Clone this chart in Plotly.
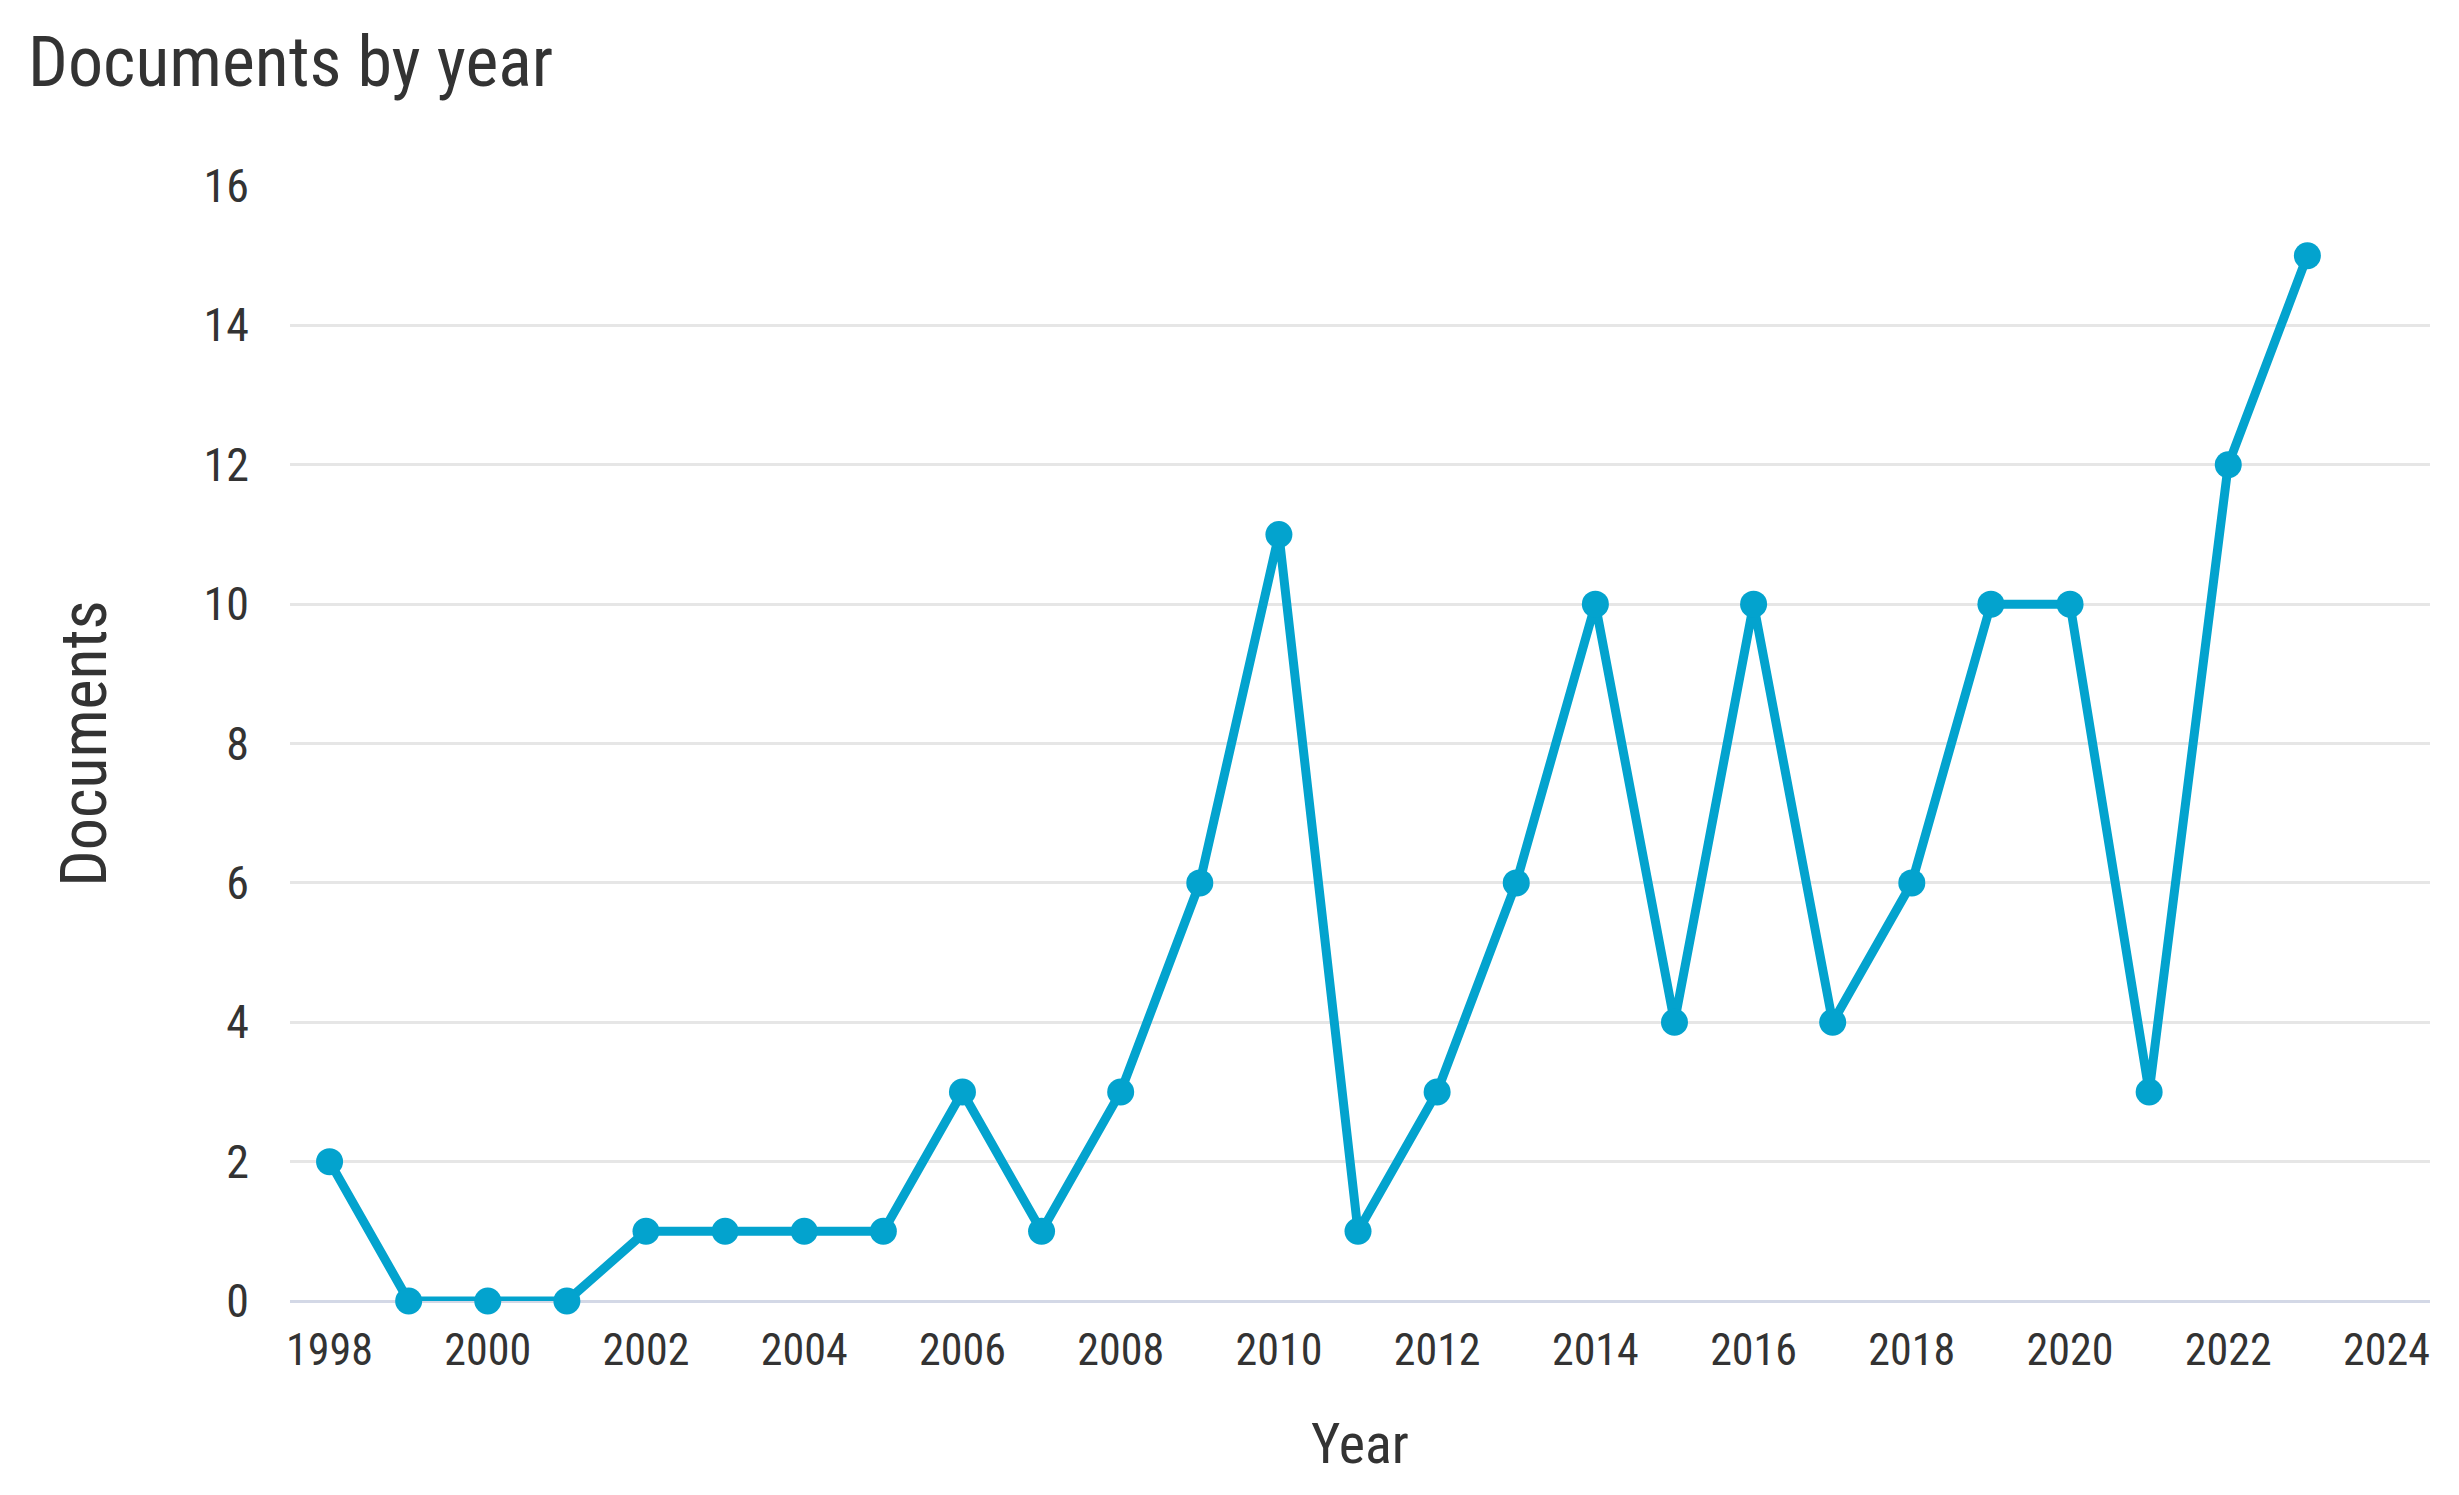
import plotly.graph_objects as go

years = list(range(1998, 2024))
documents = [2, 0, 0, 0, 1, 1, 1, 1, 3, 1, 3, 6, 11, 1, 3, 6, 10, 4, 10, 4, 6, 10, 10, 3, 12, 15]
x_ticks = list(range(1998, 2025, 2))
y_ticks = list(range(0, 17, 2))

FONT = "Liberation Sans Narrow, Roboto Condensed, Lato, sans-serif"
LINE = "#03a3ce"

fig = go.Figure()
fig.add_trace(go.Scatter(
    x=years, y=documents, mode="lines+markers",
    line=dict(color=LINE, width=9),
    marker=dict(color=LINE, size=27),
    cliponaxis=False,
    showlegend=False,
))

fig.update_layout(
    width=2459, height=1495,
    margin=dict(l=282, r=37, t=178, b=202),
    paper_bgcolor="white", plot_bgcolor="white",
    font=dict(family=FONT, color="#333333"),
    title=dict(text="Documents by year", x=20/2459, xanchor="left",
               xref="container", yref="container", y=1-53/1495, yanchor="middle",
               font=dict(size=70, color="#333333", family=FONT)),
)
fig.update_xaxes(
    range=[1997.5, 2024.55], tickvals=x_ticks, ticktext=[str(v) for v in x_ticks],
    showgrid=False, zeroline=False, showline=False,
    tickfont=dict(size=44, color="#333333"), ticklabelstandoff=19,
    title=dict(text="Year", font=dict(size=56, color="#333333"), standoff=48),
)
fig.update_yaxes(
    range=[0, 16], tickvals=y_ticks, ticktext=[str(v) for v in y_ticks],
    showgrid=True, gridcolor="#e6e6e6", gridwidth=3,
    zeroline=True, zerolinecolor="#d3d8e6", zerolinewidth=3, showline=False,
    tickfont=dict(size=46, color="#333333"), ticklabelstandoff=40,
    title=dict(text="Documents", font=dict(size=64, color="#333333"), standoff=76),
)

fig.write_html("out.html")
